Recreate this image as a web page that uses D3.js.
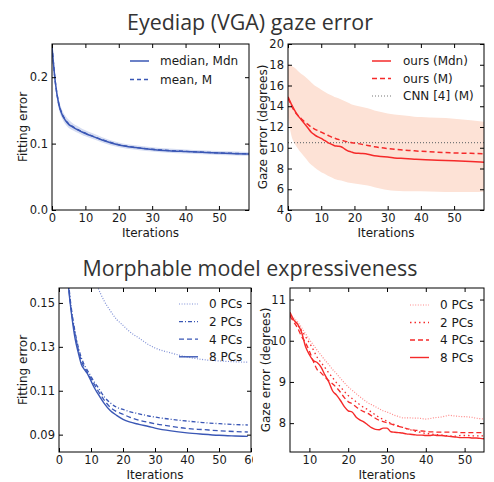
<!DOCTYPE html>
<html><head><meta charset="utf-8">
<script src="https://cdn.jsdelivr.net/npm/d3@7"></script>
<style>body{margin:0;background:#fff} svg{display:block}</style>
</head><body>
<script>
// ---------- Panel 1: Eyediap fitting error ----------
const iters1 = [0,1,2,3,4,5,6,7,8,9,10,12,15,20,25,30,35,40,45,50,55,59];
const mdn1   = [0.246,0.192,0.160,0.144,0.135,0.129,0.1255,0.1225,0.120,0.1175,0.1153,0.1112,0.1055,0.098,0.094,0.0912,0.0893,0.088,0.0868,0.0857,0.0849,0.0843];
const mean1  = [0.247,0.193,0.161,0.145,0.136,0.1298,0.1262,0.1231,0.1205,0.118,0.1158,0.1116,0.1059,0.0984,0.0943,0.0915,0.0896,0.0883,0.0871,0.086,0.0852,0.0846];
const lo1    = [0.236,0.184,0.153,0.138,0.129,0.1235,0.1205,0.118,0.1155,0.113,0.111,0.1072,0.1017,0.0945,0.0907,0.0881,0.0863,0.0851,0.084,0.083,0.0822,0.0817];
const hi1    = [0.256,0.200,0.167,0.151,0.142,0.136,0.1315,0.128,0.1255,0.1225,0.120,0.1158,0.1097,0.1018,0.0975,0.0945,0.0925,0.0911,0.0899,0.0888,0.088,0.0874];
const legend1 = ["median, Mdn","mean, M"];

// ---------- Panel 2: Eyediap gaze error ----------
const iters2 = [0,1,2,3,4,5,6,7,8,9,10,11,12,13,14,15,16,17,18,19,20,22,24,26,28,30,32,35,38,40,45,50,55,59];
const mdn2   = [14.9,14.2,13.6,13.1,12.7,12.3,11.9,11.5,11.25,11.05,10.9,10.7,10.5,10.35,10.2,10.15,10.1,9.9,9.7,9.6,9.5,9.45,9.38,9.22,9.15,9.12,9.02,8.96,8.9,8.86,8.8,8.74,8.67,8.6];
const mean2  = [14.8,14.1,13.5,13.1,12.8,12.5,12.25,12.0,11.8,11.65,11.5,11.35,11.2,11.05,10.92,10.82,10.72,10.64,10.56,10.5,10.45,10.35,10.22,10.1,10.0,9.92,9.85,9.78,9.7,9.66,9.57,9.5,9.46,9.43];
const hi2    = [18.1,17.9,17.7,17.4,17.1,16.9,16.6,16.3,16.0,15.8,15.6,15.4,15.2,15.05,14.9,14.8,14.65,14.5,14.35,14.2,14.1,13.95,13.8,13.6,13.45,13.3,13.2,13.1,13.0,12.96,12.88,12.8,12.65,12.5];
const lo2    = [13.0,11.2,10.4,9.9,9.5,9.1,8.7,8.35,8.1,7.85,7.65,7.5,7.3,7.15,7.0,6.9,6.85,6.75,6.65,6.6,6.55,6.45,6.35,6.2,6.05,5.92,5.85,5.8,5.8,5.8,5.76,5.73,5.73,5.75];
const cnn2   = 10.5;
const legend2 = ["ours (Mdn)","ours (M)","CNN [4] (M)"];

// ---------- Panel 3: Morphable model fitting error ----------
const iters3 = [0,1,2,3,4,5,6,7,8,9,10,11,12,14,16,18,20,22,25,28,30,35,40,45,50,55,59];
const pc0_3  = [0.26,0.245,0.23,0.217,0.205,0.196,0.188,0.181,0.175,0.17,0.165,0.161,0.1575,0.1512,0.1465,0.1425,0.1398,0.137,0.134,0.131,0.1295,0.1272,0.1254,0.1242,0.1236,0.1232,0.123];
const pc2_3  = [0.25,0.21,0.179,0.159,0.146,0.137,0.130,0.125,0.1215,0.119,0.1165,0.114,0.112,0.1075,0.1045,0.1025,0.1015,0.1005,0.0995,0.0985,0.098,0.097,0.0962,0.0955,0.095,0.0946,0.0944];
const pc4_3  = [0.25,0.21,0.178,0.158,0.145,0.136,0.129,0.1235,0.1205,0.118,0.1155,0.113,0.1105,0.106,0.1025,0.1005,0.0993,0.098,0.0966,0.0956,0.095,0.0938,0.0928,0.0923,0.0918,0.0914,0.0912];
const pc8_3  = [0.25,0.21,0.178,0.157,0.144,0.134,0.1275,0.122,0.1195,0.1175,0.1145,0.1115,0.109,0.1045,0.101,0.0988,0.097,0.0958,0.0947,0.0937,0.093,0.0917,0.0908,0.0902,0.0897,0.0894,0.0892];
const legend3 = ["0 PCs","2 PCs","4 PCs","8 PCs"];

// ---------- Panel 4: Morphable model gaze error ----------
const iters4 = [5,6,7,8,9,10,11,12,13,14,15,16,17,18,19,20,21,22,23,24,25,26,27,28,29,30,31,32,33,34,35,36,37,38,39,40,41,42,43,44,45,46,47,48,49,50,51,52,53,54,55];
const pc0_4  = [10.65,10.55,10.45,10.32,10.17,10.03,9.9,9.77,9.65,9.53,9.42,9.3,9.2,9.09,8.98,8.88,8.8,8.72,8.64,8.57,8.5,8.45,8.4,8.35,8.3,8.27,8.23,8.19,8.16,8.13,8.13,8.13,8.12,8.12,8.11,8.1,8.11,8.13,8.14,8.15,8.17,8.19,8.18,8.17,8.16,8.16,8.15,8.14,8.12,8.11,8.1];
const pc2_4  = [10.62,10.5,10.38,10.25,10.1,9.95,9.78,9.6,9.47,9.35,9.22,9.1,8.98,8.88,8.77,8.67,8.6,8.52,8.45,8.38,8.33,8.27,8.2,8.14,8.09,8.05,8.0,7.96,7.93,7.9,7.87,7.84,7.81,7.79,7.77,7.75,7.74,7.73,7.72,7.71,7.7,7.69,7.68,7.69,7.7,7.7,7.7,7.69,7.69,7.69,7.69];
const pc4_4  = [10.6,10.45,10.3,10.1,9.95,9.75,9.5,9.3,9.22,9.12,9.03,8.95,8.86,8.75,8.62,8.52,8.47,8.4,8.33,8.28,8.24,8.18,8.12,8.07,8.04,8.01,7.98,7.95,7.92,7.9,7.87,7.85,7.83,7.82,7.81,7.8,7.79,7.79,7.78,7.78,7.78,7.78,7.78,7.78,7.77,7.77,7.77,7.77,7.77,7.77,7.77];
const pc8_4  = [10.69,10.5,10.4,10.2,9.86,9.66,9.52,9.47,9.36,9.17,9.0,8.78,8.68,8.55,8.4,8.3,8.27,8.15,8.08,8.03,7.96,7.89,7.85,7.84,7.88,7.88,7.79,7.78,7.77,7.76,7.74,7.73,7.72,7.71,7.71,7.7,7.7,7.71,7.7,7.7,7.69,7.68,7.67,7.66,7.65,7.65,7.65,7.64,7.64,7.63,7.62];
const legend4 = ["0 PCs","2 PCs","4 PCs","8 PCs"];

const titles = ["Eyediap (VGA) gaze error","Morphable model expressiveness"];

// ---------- drawing ----------
const W = 494, H = 482;
const BLUE = "#3a57b5", BLUE_L = "#7f90d6", BAND_B = "#d6ddf2";
const RED = "#f52a2a", RED_L = "#ff8a8a", BAND_R = "#fde2d6";
const TXT = "#1a1a1a";
const svg = d3.select("body").append("svg").attr("width", W).attr("height", H)
  .style("font-family", "'DejaVu Sans', sans-serif");

svg.append("text").attr("x", 250).attr("y", 30).attr("text-anchor", "middle")
  .style("font-family", "'Open Sans', sans-serif").style("font-size", "21.4px").attr("fill", "#333")
  .text(titles[0]);
svg.append("text").attr("x", 250).attr("y", 276).attr("text-anchor", "middle")
  .style("font-family", "'Open Sans', sans-serif").style("font-size", "21.4px").attr("fill", "#333")
  .text(titles[1]);

// the left half of the lower row is cut at x = 253 in the reference
svg.append("clipPath").attr("id", "leftcut").append("rect")
  .attr("x", 0).attr("y", 0).attr("width", 253).attr("height", H);

let clipN = 0;
function panel(o) {
  const x = d3.scaleLinear().domain(o.xd).range([o.x0, o.x1]);
  const y = d3.scaleLinear().domain(o.yd).range([o.y1, o.y0]);
  const id = "clip" + (clipN++);
  svg.append("clipPath").attr("id", id).append("rect")
    .attr("x", o.x0).attr("y", o.y0).attr("width", o.x1 - o.x0).attr("height", o.y1 - o.y0);
  const g = svg.append("g");
  if (o.cut) g.attr("clip-path", "url(#leftcut)");
  const plot = g.append("g").attr("clip-path", `url(#${id})`);
  const line = (xs) => d3.line().x((d, i) => x(xs[i])).y(d => y(d)).curve(d3.curveMonotoneX);
  if (o.band) {
    const b = o.band;
    plot.append("path").datum(b.lo)
      .attr("d", d3.area().x((d, i) => x(b.xs[i])).y0(d => y(d)).y1((d, i) => y(b.hi[i])).curve(d3.curveMonotoneX))
      .attr("fill", b.color).attr("stroke", "none");
  }
  o.series.forEach(s => {
    if (s.hline !== undefined) {
      plot.append("line").attr("x1", o.x0).attr("x2", o.x1).attr("y1", y(s.hline)).attr("y2", y(s.hline))
        .attr("stroke", s.color).attr("stroke-width", s.w).attr("stroke-dasharray", s.dash || null);
    } else {
      plot.append("path").datum(s.ys).attr("d", line(s.xs)).attr("fill", "none")
        .attr("stroke", s.color).attr("stroke-width", s.w).attr("stroke-dasharray", s.dash || null)
        .attr("stroke-linejoin", "round");
    }
  });
  const tl = 4;
  const ax = (gen, tr, vals, fmt) => {
    const a = g.append("g").attr("transform", tr)
      .call(gen.tickValues(vals).tickSizeInner(-tl).tickSizeOuter(0).tickPadding(4).tickFormat(fmt));
    a.select(".domain").remove();
    a.selectAll("line").attr("stroke", "#000").attr("stroke-width", 1);
    a.selectAll("text").attr("fill", TXT).style("font-size", "11.5px").style("font-family", "'DejaVu Sans', sans-serif");
    return a;
  };
  ax(d3.axisBottom(x), `translate(0,${o.y1})`, o.xt, d3.format("d"));
  ax(d3.axisTop(x), `translate(0,${o.y0})`, o.xt, () => "");
  ax(d3.axisLeft(y), `translate(${o.x0},0)`, o.yt, o.yfmt);
  ax(d3.axisRight(y), `translate(${o.x1},0)`, o.yt, () => "");
  g.append("rect").attr("x", o.x0).attr("y", o.y0).attr("width", o.x1 - o.x0).attr("height", o.y1 - o.y0)
    .attr("fill", "none").attr("stroke", "#000").attr("stroke-width", 1);
  g.append("text").attr("x", (o.x0 + o.x1) / 2).attr("y", o.y1 + 27).attr("text-anchor", "middle")
    .attr("fill", TXT).style("font-size", "12px").text("Iterations");
  g.append("text").attr("transform", `translate(${o.ylx},${(o.y0 + o.y1) / 2}) rotate(-90)`)
    .attr("text-anchor", "middle").attr("fill", TXT).style("font-size", "12px").text(o.ylabel);
  const L = o.legend;
  L.items.forEach((it, i) => {
    const yy = L.y + i * L.dy;
    g.append("line").attr("x1", L.x).attr("x2", L.x + 19).attr("y1", yy).attr("y2", yy)
      .attr("stroke", it.color).attr("stroke-width", it.w).attr("stroke-dasharray", it.dash || null);
    g.append("text").attr("x", L.tx).attr("y", yy + 4.3).attr("fill", TXT).style("font-size", "12px").text(it.label);
  });
}

// Panel 1
panel({
  x0: 52, x1: 249, y0: 44, y1: 210, xd: [0, 59], yd: [0, 0.25],
  xt: [0, 10, 20, 30, 40, 50], yt: [0, 0.1, 0.2], yfmt: d3.format(".1f"),
  ylabel: "Fitting error", ylx: 27,
  band: { xs: iters1, lo: lo1, hi: hi1, color: BAND_B },
  series: [
    { xs: iters1, ys: mean1, color: BLUE, w: 1.4, dash: "4,3" },
    { xs: iters1, ys: mdn1, color: BLUE, w: 1.5 }
  ],
  legend: { x: 130, tx: 160, y: 61, dy: 18.5, items: [
    { label: legend1[0], color: BLUE, w: 1.5 },
    { label: legend1[1], color: BLUE, w: 1.4, dash: "4,3" }
  ] }
});

// Panel 2
panel({
  x0: 288, x1: 484, y0: 44, y1: 210, xd: [0, 59], yd: [4, 20],
  xt: [0, 10, 20, 30, 40, 50], yt: [4, 6, 8, 10, 12, 14, 16, 18, 20], yfmt: d3.format("d"),
  ylabel: "Gaze error (degrees)", ylx: 267,
  band: { xs: iters2, lo: lo2, hi: hi2, color: BAND_R },
  series: [
    { hline: cnn2, color: "#777", w: 1.2, dash: "1,2" },
    { xs: iters2, ys: mean2, color: RED, w: 1.5, dash: "5,3" },
    { xs: iters2, ys: mdn2, color: RED, w: 1.5 }
  ],
  legend: { x: 372, tx: 403, y: 61, dy: 17.5, items: [
    { label: legend2[0], color: RED, w: 1.5 },
    { label: legend2[1], color: RED, w: 1.5, dash: "5,3" },
    { label: legend2[2], color: "#777", w: 1.2, dash: "1,2" }
  ] }
});

// Panel 3
panel({
  x0: 59, x1: 251, y0: 288, y1: 452, xd: [0, 60], yd: [0.0821, 0.1568],
  xt: [0, 10, 20, 30, 40, 50, 60], yt: [0.09, 0.11, 0.13, 0.15], yfmt: d3.format(".2f"),
  ylabel: "Fitting error", ylx: 27, cut: true,
  series: [
    { xs: iters3, ys: pc0_3, color: BLUE_L, w: 1.2, dash: "1,1.6" },
    { xs: iters3, ys: pc2_3, color: BLUE, w: 1.3, dash: "4,2,1,2" },
    { xs: iters3, ys: pc4_3, color: BLUE, w: 1.3, dash: "5,3" },
    { xs: iters3, ys: pc8_3, color: BLUE, w: 1.4 }
  ],
  legend: { x: 179, tx: 209, y: 304, dy: 17.6, items: [
    { label: legend3[0], color: BLUE_L, w: 1.2, dash: "1,1.6" },
    { label: legend3[1], color: BLUE, w: 1.3, dash: "4,2,1,2" },
    { label: legend3[2], color: BLUE, w: 1.3, dash: "5,3" },
    { label: legend3[3], color: BLUE, w: 1.4 }
  ] }
});

// Panel 4
panel({
  x0: 290, x1: 484, y0: 288, y1: 452, xd: [5, 55], yd: [7.3, 11.28],
  xt: [10, 20, 30, 40, 50], yt: [8, 9, 10, 11], yfmt: d3.format("d"),
  ylabel: "Gaze error (degrees)", ylx: 270,
  series: [
    { xs: iters4, ys: pc0_4, color: RED_L, w: 1.2, dash: "1,1.6" },
    { xs: iters4, ys: pc2_4, color: RED, w: 1.3, dash: "1.5,3" },
    { xs: iters4, ys: pc4_4, color: RED, w: 1.3, dash: "5,3" },
    { xs: iters4, ys: pc8_4, color: RED, w: 1.4 }
  ],
  legend: { x: 410, tx: 440, y: 305, dy: 17.5, items: [
    { label: legend4[0], color: RED_L, w: 1.2, dash: "1,1.6" },
    { label: legend4[1], color: RED, w: 1.3, dash: "1.5,3" },
    { label: legend4[2], color: RED, w: 1.3, dash: "5,3" },
    { label: legend4[3], color: RED, w: 1.4 }
  ] }
});
</script>
</body></html>
